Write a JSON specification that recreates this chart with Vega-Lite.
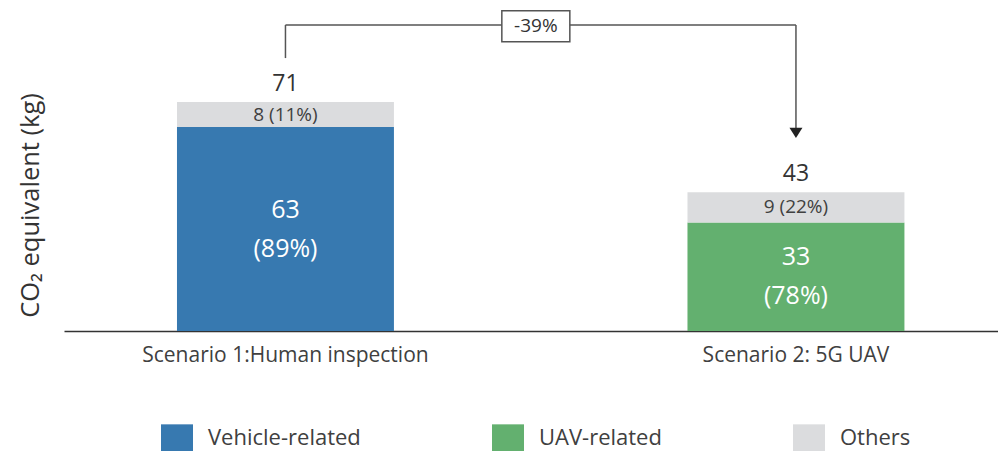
{
  "$schema": "https://vega.github.io/schema/vega-lite/v6.json",
  "width": 934,
  "height": 331,
  "autosize": {"type": "none"},
  "padding": {"left": 64, "top": 0, "right": 0, "bottom": 120},
  "background": "white",
  "config": {"font": "Open Sans", "view": {"stroke": null}},
  "datasets": {
    "segments": [
      {"scenario": "Scenario 1:Human inspection", "category": "Vehicle-related", "value": 63.2, "label": "63\n(89%)", "order": 1},
      {"scenario": "Scenario 1:Human inspection", "category": "Others", "value": 7.8, "label": "8  (11%)", "order": 2},
      {"scenario": "Scenario 2: 5G UAV", "category": "UAV-related", "value": 33.6, "label": "33\n(78%)", "order": 1},
      {"scenario": "Scenario 2: 5G UAV", "category": "Others", "value": 9.4, "label": "9 (22%)", "order": 2}
    ],
    "hline": [
      {"from": "Scenario 1:Human inspection", "to": "Scenario 2: 5G UAV", "level": 94.85}
    ],
    "vlines": [
      {"scenario": "Scenario 1:Human inspection", "top": 94.85, "bottom": 84.6},
      {"scenario": "Scenario 2: 5G UAV", "top": 94.85, "bottom": 62.3}
    ],
    "arrowhead": [
      {"scenario": "Scenario 2: 5G UAV", "level": 61.4}
    ],
    "change": [
      {"scenario": "Scenario 1:Human inspection", "level": 94.5, "text": "-39%"}
    ]
  },
  "layer": [
    {
      "data": {"name": "segments"},
      "mark": {"type": "bar"},
      "encoding": {
        "x": {
          "field": "scenario",
          "type": "nominal",
          "scale": {
            "domain": ["Scenario 1:Human inspection", "Scenario 2: 5G UAV"],
            "paddingInner": 0.575,
            "paddingOuter": 0.2023,
            "align": 0.547
          },
          "axis": {
            "title": null,
            "domainColor": "#333333",
            "domainWidth": 1.5,
            "ticks": false,
            "labelFontSize": 21,
            "labelColor": "#404040",
            "labelPadding": 13,
            "labelAngle": 0,
            "labelLimit": 0
          }
        },
        "y": {
          "field": "value",
          "type": "quantitative",
          "stack": "zero",
          "scale": {"domain": [0, 102.6], "nice": false},
          "axis": {
            "title": "CO₂ equivalent (kg)",
            "domain": false,
            "ticks": false,
            "labels": false,
            "grid": false,
            "titleFontSize": 25.5,
            "titleFontWeight": "normal",
            "titleColor": "#333333",
            "titlePadding": 21,
            "titleY": 205,
            "titleAlign": "center"
          }
        },
        "color": {
          "field": "category",
          "type": "nominal",
          "scale": {
            "domain": ["Vehicle-related", "UAV-related", "Others"],
            "range": ["#3779B0", "#63B06F", "#DBDCDE"]
          },
          "legend": {
            "title": null,
            "orient": "none",
            "legendX": 97,
            "legendY": 421.5,
            "direction": "horizontal",
            "symbolType": "M-1,-0.84H1V0.84H-1Z",
            "symbolSize": 1024,
            "symbolStrokeWidth": 0,
            "symbolOpacity": 1,
            "labelFontSize": 22,
            "labelColor": "#404040",
            "labelOffset": 15,
            "columnPadding": 131,
            "labelLimit": 0,
            "padding": 0
          }
        },
        "order": {"field": "order", "type": "quantitative"}
      }
    },
    {
      "data": {"name": "segments"},
      "mark": {"type": "text", "lineBreak": "\n", "lineHeight": 39, "baseline": "middle", "dy": -19.5, "fontSize": 25, "color": "#ffffff"},
      "encoding": {
        "x": {"field": "scenario", "type": "nominal"},
        "y": {"field": "value", "type": "quantitative", "stack": "zero", "bandPosition": 0.5},
        "detail": {"field": "category"},
        "order": {"field": "order", "type": "quantitative"},
        "text": {"condition": {"test": "datum.order === 2", "value": ""}, "field": "label"}
      }
    },
    {
      "data": {"name": "segments"},
      "mark": {"type": "text", "baseline": "middle", "fontSize": 19, "color": "#404040"},
      "encoding": {
        "x": {"field": "scenario", "type": "nominal"},
        "y": {"field": "value", "type": "quantitative", "stack": "zero", "bandPosition": 0.5},
        "detail": {"field": "category"},
        "order": {"field": "order", "type": "quantitative"},
        "text": {"condition": {"test": "datum.order === 1", "value": ""}, "field": "label"}
      }
    },
    {
      "data": {"name": "segments"},
      "mark": {"type": "text", "dy": -18, "baseline": "middle", "fontSize": 23, "color": "#333333"},
      "encoding": {
        "x": {"field": "scenario", "type": "nominal"},
        "y": {"aggregate": "sum", "field": "value", "type": "quantitative"},
        "text": {"aggregate": "sum", "field": "value", "type": "quantitative", "format": ".0f"}
      }
    },
    {
      "data": {"name": "hline"},
      "mark": {"type": "rule", "color": "#555555", "strokeWidth": 1.5},
      "encoding": {
        "x": {"field": "from", "type": "nominal"},
        "x2": {"field": "to"},
        "y": {"field": "level", "type": "quantitative"}
      }
    },
    {
      "data": {"name": "vlines"},
      "mark": {"type": "rule", "color": "#555555", "strokeWidth": 1.5},
      "encoding": {
        "x": {"field": "scenario", "type": "nominal"},
        "y": {"field": "top", "type": "quantitative"},
        "y2": {"field": "bottom"}
      }
    },
    {
      "data": {"name": "arrowhead"},
      "mark": {"type": "point", "shape": "M-1,-0.8L1,-0.8L0,0.8Z", "size": 169, "filled": true, "color": "#222222", "opacity": 1},
      "encoding": {
        "x": {"field": "scenario", "type": "nominal"},
        "y": {"field": "level", "type": "quantitative"}
      }
    },
    {
      "data": {"name": "change"},
      "mark": {"type": "point", "shape": "M-1,-0.456H1V0.456H-1Z", "size": 4624, "filled": true, "fill": "#ffffff", "stroke": "#555555", "strokeWidth": 1.5, "opacity": 1},
      "encoding": {
        "x": {"field": "scenario", "type": "nominal", "bandPosition": 1.654},
        "y": {"field": "level", "type": "quantitative"}
      }
    },
    {
      "data": {"name": "change"},
      "mark": {"type": "text", "baseline": "middle", "fontSize": 19, "color": "#333333"},
      "encoding": {
        "x": {"field": "scenario", "type": "nominal", "bandPosition": 1.654},
        "y": {"field": "level", "type": "quantitative"},
        "text": {"field": "text"}
      }
    }
  ]
}
